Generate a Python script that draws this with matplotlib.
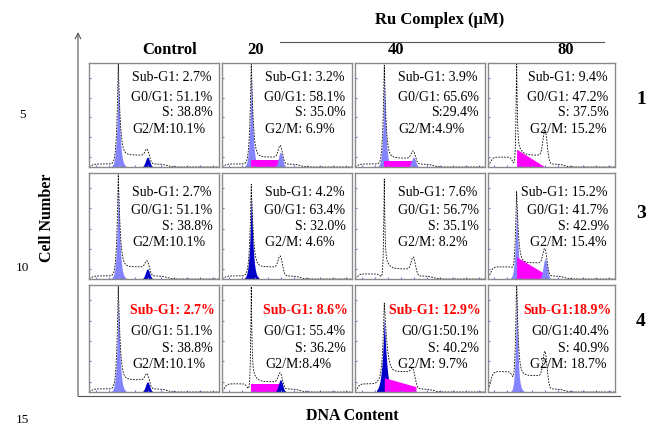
import numpy as np
import matplotlib.pyplot as plt

plt.rcParams['font.family'] = ['Liberation Serif', 'DejaVu Serif']

# cell-cycle percentages, rows = complex 1, 3, 4 ; cols = Control, 20, 40, 80 uM
columns = ["Control", "20", "40", "80"]
rows = ["1", "3", "4"]
sub_g1 = [[2.7, 3.2, 3.9, 9.4], [2.7, 4.2, 7.6, 15.2], [2.7, 8.6, 12.9, 18.9]]
g0_g1 = [[51.1, 58.1, 65.6, 47.2], [51.1, 63.4, 56.7, 41.7], [51.1, 55.4, 50.1, 40.4]]
s_ph = [[38.8, 35.0, 29.4, 37.5], [38.8, 32.0, 35.1, 42.9], [38.8, 36.2, 40.2, 40.9]]
g2_m = [[10.1, 6.9, 4.9, 15.2], [10.1, 4.6, 8.2, 15.4], [10.1, 8.4, 9.7, 18.7]]
# space after the colon in each label (as typed in the original)
gaps = [["yyyn", "yyyy", "yynn", "yyyy"],
        ["yyyn", "yyyy", "yyyy", "yyyy"],
        ["yyyn", "yyyn", "ynyy", "nnyy"]]

# histogram heights (fraction of panel height)
g1_peak = [[0.90, 0.92, 0.90, 1.00], [0.90, 0.80, 0.88, 0.72], [0.90, 0.92, 0.70, 0.95]]
g1_width = [[0.014, 0.014, 0.013, 0.006], [0.014, 0.015, 0.006, 0.014], [0.014, 0.006, 0.02, 0.012]]
s_level = [[0.12, 0.10, 0.09, 0.12], [0.12, 0.12, 0.10, 0.16], [0.12, 0.10, 0.20, 0.16]]
g2_peak = [[0.10, 0.15, 0.10, 0.30], [0.10, 0.15, 0.15, 0.20], [0.10, 0.12, 0.10, 0.30]]
sub_level = [[0.03, 0.03, 0.03, 0.10], [0.03, 0.03, 0.05, 0.12], [0.03, 0.08, 0.08, 0.20]]
g1_fill = [["light", "light", "light", None], ["light", "dark", None, "light"], ["light", None, "dark", "light"]]
s_fill = [[None, (0.07, 0.07), (0.06, 0.06), (0.18, 0.0)],
          [None, None, None, (0.22, 0.05)],
          [None, (0.08, 0.08), (0.14, 0.06), None]]
g2_fill = [["dark", "light", "light", None], ["dark", None, None, "light"], ["dark", "dark", None, None]]

col_px = [(89, 219), (222, 352), (355, 485), (488, 615)]
row_px = [(63, 167), (173, 279), (285, 392)]
text_y = [[0.86, 0.67, 0.52, 0.36], [0.82, 0.65, 0.50, 0.34], [0.76, 0.57, 0.41, 0.26]]
colors = {"light": "#8484ff", "dark": "#0000c8"}

W, H = 649, 426
fig = plt.figure(figsize=(W / 100, H / 100), dpi=100)
bg = fig.add_axes([0, 0, 1, 1])
bg.set_xlim(0, W)
bg.set_ylim(H, 0)
bg.axis('off')

x = np.linspace(0, 1, 800)
c1, c2 = 0.225, 0.45


def sig(v):
    return 1 / (1 + np.exp(-v))


for r in range(3):
    for c in range(4):
        x0, x1 = col_px[c]
        y0, y1 = row_px[r]
        ax = fig.add_axes([x0 / W, 1 - y1 / H, (x1 - x0) / W, (y1 - y0) / H])
        ax.set_xlim(0, 1)
        ax.set_ylim(0, 1.05)
        for sp in ax.spines.values():
            sp.set_color('#8a8a8a')
            sp.set_linewidth(1.0)
        ax.set_xticks(np.linspace(0.05, 0.95, 10))
        ax.set_yticks(np.linspace(0.1, 0.9, 5))
        ax.tick_params(direction='in', length=1.5, color='#7070d0', labelbottom=False, labelleft=False)

        # triangular-ish G1 spike
        w = g1_width[r][c]
        g1 = g1_peak[r][c] * np.exp(-np.abs(x - c1) / w) * np.exp(-(x - c1) ** 2 / (2 * (2.5 * w) ** 2))
        tail = 0.22 * g1_peak[r][c] * np.exp(-np.clip(x - c1, 0, None) / 0.025) * sig((x - c1) / 0.004)
        sub = sub_level[r][c] * sig((0.195 - x) / 0.008) * sig((x - 0.02) / 0.01)
        sph = s_level[r][c] * sig((x - c1) / 0.008) * sig((c2 - x) / 0.01)
        g2 = g2_peak[r][c] * np.exp(-(x - c2) ** 2 / (2 * 0.016 ** 2))
        post = 0.03 * sig((x - c2) / 0.01) * sig((0.6 - x) / 0.02)
        y = g1 + tail + sub + sph + g2 + post

        if g1_fill[r][c]:
            m = (x > c1 - 0.06) & (x < c1 + 0.06)
            ax.fill_between(x[m], 0, (g1 + 0.5 * tail)[m], color=colors[g1_fill[r][c]], lw=0)
        if s_fill[r][c]:
            a, b = s_fill[r][c]
            m = (x > c1) & (x < c2 + 0.02)
            lvl = a + (b - a) * (x - c1) / (c2 - c1)
            ax.fill_between(x[m], 0, np.minimum(np.clip(lvl, 0, None), y)[m], color='#ff00ff', lw=0)
        if g2_fill[r][c]:
            m = (x > c2 - 0.05) & (x < c2 + 0.05)
            ax.fill_between(x[m], 0, g2[m], color=colors[g2_fill[r][c]], lw=0)
        ax.plot(x, y, color='black', lw=0.6, ls=(0, (2, 1.5)))

        vals = [sub_g1[r][c], g0_g1[r][c], s_ph[r][c], g2_m[r][c]]
        names = ["Sub-G1:", "G0/G1:", "S:", "G2/M:"]
        labels = [n + (" " if g == "y" else "") + f"{v:.1f}%" for n, g, v in zip(names, gaps[r][c], vals)]
        ty = text_y[r]
        if r == 2:
            ax.text(0.97, ty[0], labels[0], transform=ax.transAxes, ha='right', va='center',
                    fontsize=10, color='#ff0000', fontweight='bold')
        else:
            ax.text(0.94, ty[0], labels[0], transform=ax.transAxes, ha='right', va='center', fontsize=10)
        ax.text(0.95, ty[1], labels[1], transform=ax.transAxes, ha='right', va='center', fontsize=10)
        ax.text(0.95, ty[2], labels[2], transform=ax.transAxes, ha='right', va='center', fontsize=10)
        ax.text(0.33, ty[3], labels[3], transform=ax.transAxes, ha='left', va='center', fontsize=10)

# outer L-shaped axis with arrow
bg.annotate('', xy=(78, 32), xytext=(78, 396),
            arrowprops=dict(arrowstyle='->', color='#555555', lw=0.8, shrinkA=0, shrinkB=0))
bg.plot([78, 620], [396, 396], color='#555555', lw=0.8)

col_x = [170, 256, 396, 566]
for cx, name in zip(col_x, columns):
    bg.text(cx, 50, name, ha='center', va='center', fontsize=12, fontweight='bold')
bg.text(440, 20, "Ru Complex (μM)", ha='center', va='center', fontsize=12, fontweight='bold')
bg.plot([280, 604], [42, 42], color='#555555', lw=0.8)

for ry, name in zip([100, 213, 322], rows):
    bg.text(641, ry, name, ha='center', va='center', fontsize=14, fontweight='bold')

bg.text(47, 218, "Cell Number", rotation=90, ha='center', va='center', fontsize=11.5, fontweight='bold')
bg.text(352, 416, "DNA Content", ha='center', va='center', fontsize=11.5, fontweight='bold')
for ly, t in zip([115, 268, 420], ["5", "10", "15"]):
    bg.text(22, ly, t, ha='center', va='center', fontsize=9.5)

fig.savefig('out.png', dpi=100)
